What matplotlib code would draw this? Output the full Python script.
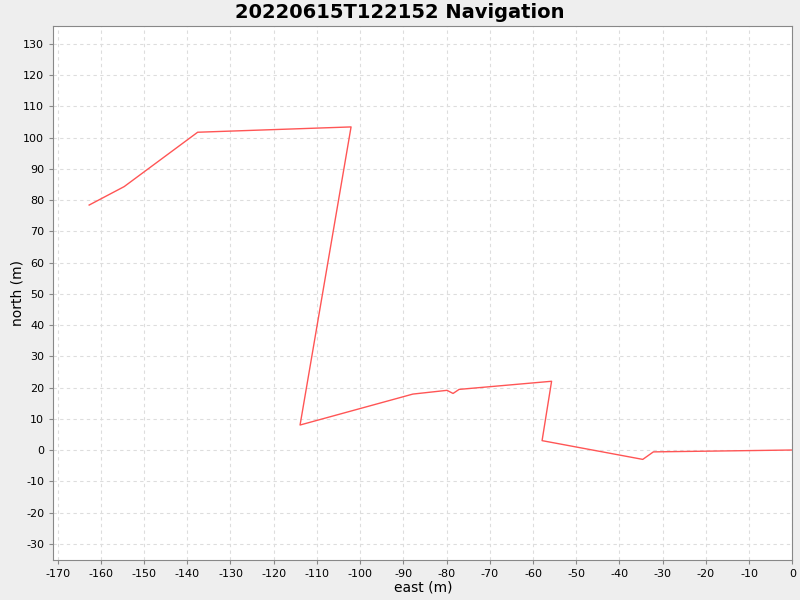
import matplotlib.pyplot as plt

plt.rcParams['axes.unicode_minus'] = False

east = [-162.7, -154.6, -137.6, -102.1, -113.9, -87.8, -79.9, -78.5, -77.1,
        -55.7, -57.9, -34.6, -32.15, 0.0]
north = [78.4, 84.3, 101.7, 103.4, 8.0, 17.9, 19.1, 18.1, 19.4,
         22.0, 3.0, -3.0, -0.6, 0.0]
xticks = list(range(-170, 1, 10))
yticks = list(range(-30, 131, 10))

fig = plt.figure(figsize=(8, 6), dpi=100, facecolor='#eeeeee')
ax = fig.add_axes([53.3 / 800, 40 / 600, (792.3 - 53.3) / 800, (560.3 - 26.3) / 600])
ax.set_facecolor('white')

ax.plot(east, north, color='#ff5555', linewidth=1.0)

ax.set_xlim(-171, 0)
ax.set_ylim(-35.2, 135.7)
ax.set_xticks(xticks)
ax.set_yticks(yticks)
ax.grid(True, color='#dddddd', linestyle=(0, (3, 3)), linewidth=0.8)
ax.set_axisbelow(True)

for s in ax.spines.values():
    s.set_color('#888888')
ax.tick_params(colors='#888888', labelcolor='black', labelsize=8, length=3, width=0.8)

ax.set_xlabel('east (m)', fontsize=10, labelpad=1)
ax.set_ylabel('north (m)', fontsize=10)
ax.yaxis.set_label_coords(-0.039, 0.5)
fig.suptitle('20220615T122152 Navigation', fontsize=14, fontweight='bold', y=0.995)

plt.savefig('out.png', dpi=100, facecolor=fig.get_facecolor())
